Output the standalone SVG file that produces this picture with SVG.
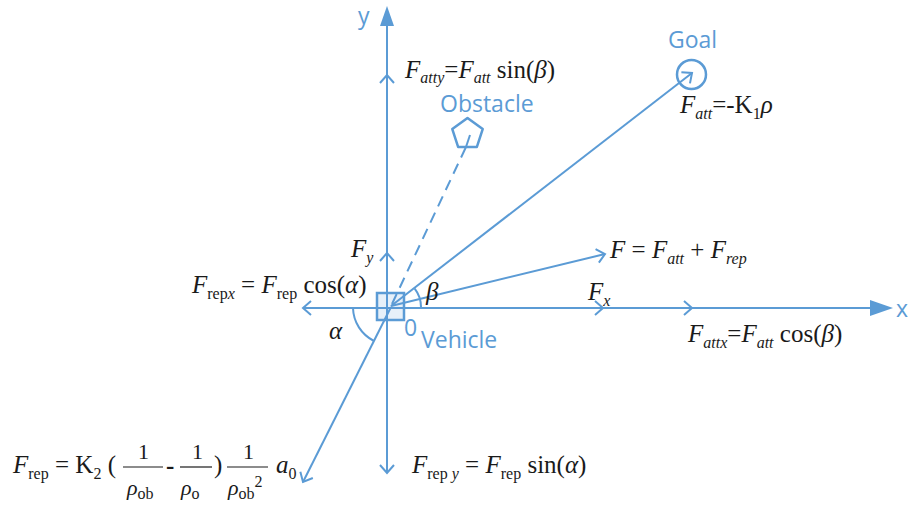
<svg xmlns="http://www.w3.org/2000/svg" width="909" height="511" viewBox="0 0 909 511">
<style>
.ln{stroke:#5B9BD5;stroke-width:2;fill:none}
.oa{marker-end:url(#open)}
.m{font-family:"Liberation Serif",serif;fill:#1a1a1a;font-size:25px}
.i{font-style:italic}
.s{font-size:16px}
.f{font-size:22px}
.b{font-family:"Open Sans","Noto Sans",sans-serif;fill:#5B9BD5;font-size:23px}
</style>
<defs>
<marker id="open" viewBox="-10 -10 20 20" refX="0" refY="0" markerWidth="20" markerHeight="20" markerUnits="userSpaceOnUse" orient="auto">
<path d="M-8,-7 L0,0 L-8,7" fill="none" stroke="#5B9BD5" stroke-width="2"/>
</marker>
</defs>
<rect width="909" height="511" fill="#ffffff"/>
<g id="connectors">
<line class="ln" x1="387" y1="473" x2="387" y2="24"/>
<polygon points="387,6 380,26 394,26" fill="#5B9BD5"/>
<line class="ln" x1="303" y1="308" x2="874" y2="308"/>
<polygon points="893,308 870,300 870,316" fill="#5B9BD5"/>
<line class="ln oa" x1="387" y1="307" x2="387" y2="75"/>
<line class="ln oa" x1="387" y1="307" x2="387" y2="253"/>
<line class="ln oa" x1="387" y1="307" x2="387" y2="473"/>
<line class="ln oa" x1="391" y1="308" x2="303" y2="308"/>
<line class="ln oa" x1="391" y1="308" x2="603" y2="308"/>
<line class="ln oa" x1="391" y1="308" x2="692" y2="308"/>
<line class="ln oa" x1="391" y1="306" x2="605" y2="254"/>
<line class="ln oa" x1="391" y1="306" x2="692" y2="73"/>
<line class="ln oa" x1="391" y1="307" x2="303" y2="482"/>
<line class="ln" x1="392" y1="304" x2="466" y2="147" stroke-dasharray="11,7"/>
<line class="ln" x1="466" y1="147" x2="470" y2="135"/>
<path class="ln" d="M353,308 A38,38 0 0 0 374,341"/>
<path class="ln" d="M421,307 A30,30 0 0 0 414.7,288.6"/>
</g>
<g id="vehicle">
<rect x="377" y="293" width="27" height="27" fill="#5B9BD5" fill-opacity="0.15" stroke="#5B9BD5" stroke-width="2.5"/>
<text class="b" x="404" y="336" font-size="22">0</text>
<text class="b" x="421" y="348">Vehicle</text>
</g>
<g id="goal">
<circle cx="691.5" cy="74.5" r="14.5" fill="none" stroke="#5B9BD5" stroke-width="2.5"/>
<text class="b" x="668" y="48">Goal</text>
</g>
<g id="obstacle">
<polygon points="467.5,118 482.7,129.1 476.9,146.9 458.1,146.9 452.3,129.1" fill="none" stroke="#5B9BD5" stroke-width="2.5" stroke-linejoin="round"/>
<text class="b" x="440" y="112">Obstacle</text>
</g>
<g id="axes-labels">
<text class="b" x="358" y="24" font-size="21">y</text>
<text class="b" x="896" y="317" font-size="22">x</text>
</g>
<g id="labels">
<text class="m" x="405" y="78"><tspan class="i">F</tspan><tspan class="i s" dy="5">atty</tspan><tspan dy="-5">=</tspan><tspan class="i">F</tspan><tspan class="i s" dy="5">att</tspan><tspan dy="-5"> sin(</tspan><tspan class="i">β</tspan><tspan>)</tspan></text>
<text class="m" x="680" y="113"><tspan class="i">F</tspan><tspan class="i s" dy="6">att</tspan><tspan dy="-6">=-K</tspan><tspan class="s" dy="6">1</tspan><tspan class="i" dy="-6">ρ</tspan></text>
<text class="m" x="351" y="257"><tspan class="i">F</tspan><tspan class="i s" dy="6">y</tspan></text>
<text class="m" x="192" y="293"><tspan class="i">F</tspan><tspan class="s" dy="6">rep</tspan><tspan class="i s">x</tspan><tspan dy="-6"> = </tspan><tspan class="i">F</tspan><tspan class="s" dy="6">rep</tspan><tspan dy="-6"> cos(</tspan><tspan class="i">α</tspan><tspan>)</tspan></text>
<text class="i m" x="426" y="300">β</text>
<text class="i m" x="329" y="339">α</text>
<text class="m" x="610" y="258"><tspan class="i">F</tspan><tspan> = </tspan><tspan class="i">F</tspan><tspan class="i s" dy="6">att</tspan><tspan dy="-6"> + </tspan><tspan class="i">F</tspan><tspan class="i s" dy="6">rep</tspan></text>
<text class="m" x="588" y="300"><tspan class="i">F</tspan><tspan class="i s" dy="6">x</tspan></text>
<text class="m" x="688" y="342"><tspan class="i">F</tspan><tspan class="i s" dy="6">attx</tspan><tspan dy="-6">=</tspan><tspan class="i">F</tspan><tspan class="i s" dy="6">att</tspan><tspan dy="-6"> cos(</tspan><tspan class="i">β</tspan><tspan>)</tspan></text>
<text class="m" x="412" y="473"><tspan class="i">F</tspan><tspan class="s" dy="6">rep</tspan><tspan class="i s"> y</tspan><tspan dy="-6"> = </tspan><tspan class="i">F</tspan><tspan class="s" dy="6">rep</tspan><tspan dy="-6"> sin(</tspan><tspan class="i">α</tspan><tspan>)</tspan></text>
</g>
<g id="rep-formula">
<text class="m" x="13" y="473"><tspan class="i">F</tspan><tspan class="s" dy="6">rep</tspan><tspan dy="-6"> = K</tspan><tspan class="s" dy="6">2</tspan><tspan dy="-6"> (</tspan></text>
<text class="m f" x="138" y="459">1</text>
<line x1="123" y1="467" x2="163" y2="467" stroke="#1a1a1a" stroke-width="1.2"/>
<text class="m f" x="127" y="495"><tspan class="i">ρ</tspan><tspan class="s" dy="4">ob</tspan></text>
<text class="m" x="166" y="474" font-weight="bold">-</text>
<text class="m f" x="192" y="459">1</text>
<line x1="180" y1="467" x2="212" y2="467" stroke="#1a1a1a" stroke-width="1.2"/>
<text class="m f" x="181" y="495"><tspan class="i">ρ</tspan><tspan class="s" dy="4">o</tspan></text>
<text class="m" x="214" y="473">)</text>
<text class="m f" x="243" y="459">1</text>
<line x1="227" y1="467" x2="268" y2="467" stroke="#1a1a1a" stroke-width="1.2"/>
<text class="m f" x="228" y="495"><tspan class="i">ρ</tspan><tspan class="s" dy="4">ob</tspan><tspan class="s" dy="-12">2</tspan></text>
<text class="m" x="276" y="473"><tspan class="i">a</tspan><tspan class="s" dy="6">0</tspan></text>
</g>
</svg>
